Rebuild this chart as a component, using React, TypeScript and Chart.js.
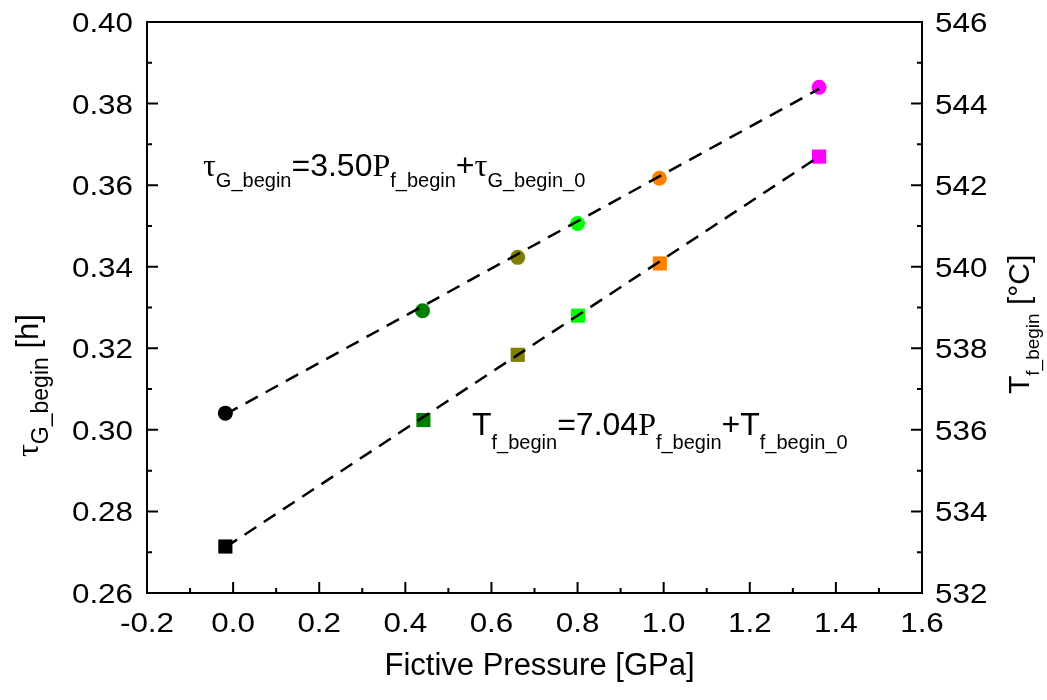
import { useEffect, useRef } from 'react';
import { Chart, registerables } from 'chart.js';
Chart.register(...registerables);

// ---- data ----
const tauPressure = [-0.018, 0.44, 0.661, 0.8, 0.99, 1.361];
const tauBegin = [0.3041, 0.3292, 0.3423, 0.3506, 0.3617, 0.384];
const tempPressure = [-0.018, 0.442, 0.661, 0.801, 0.991, 1.361];
const tempBegin = [533.14, 536.24, 537.84, 538.8, 540.08, 542.7];
const pointColors = ['#000000', '#007F00', '#7F7F00', '#00FF00', '#FF8000', '#FF00FF'];
const tauFitX = [-0.018, 1.361];
const tauFitY = [0.3038, 0.3836];
const tempFitX = [-0.018, 1.361];
const tempFitY = [533.12, 542.7];
const xTickValues = [-0.2, 0, 0.2, 0.4, 0.6, 0.8, 1.0, 1.2, 1.4, 1.6];
const xTickLabels = ['-0.2', '0.0', '0.2', '0.4', '0.6', '0.8', '1.0', '1.2', '1.4', '1.6'];
const leftTickValues = [0.26, 0.28, 0.3, 0.32, 0.34, 0.36, 0.38, 0.4];
const leftTickLabels = ['0.26', '0.28', '0.30', '0.32', '0.34', '0.36', '0.38', '0.40'];
const rightTickValues = [532, 534, 536, 538, 540, 542, 544, 546];
const rightTickLabels = ['532', '534', '536', '538', '540', '542', '544', '546'];

const SANS = '"Liberation Sans", Arial, sans-serif';
const SERIF = '"Liberation Serif", "Times New Roman", serif';

type Seg = { t: string; font: string; dy?: number };

function drawRich(ctx: CanvasRenderingContext2D, segs: Seg[], x: number, y: number) {
  let cx = x;
  ctx.textAlign = 'left';
  ctx.textBaseline = 'alphabetic';
  for (const s of segs) {
    ctx.font = s.font;
    ctx.fillText(s.t, cx, y + (s.dy || 0));
    cx += ctx.measureText(s.t).width;
  }
}

function drawStretched(ctx: CanvasRenderingContext2D, text: string, x: number, y: number, align: CanvasTextAlign, sx: number) {
  ctx.save();
  ctx.translate(x, y);
  ctx.scale(sx, 1);
  ctx.textAlign = align;
  ctx.textBaseline = 'alphabetic';
  ctx.fillText(text, 0, 0);
  ctx.restore();
}

const TICK_FONT = `28px ${SANS}`;
const TICK_SX = 1.12;

const decorPlugin = {
  id: 'decor',
  afterDraw(chart: any) {
    const ctx: CanvasRenderingContext2D = chart.ctx;
    const { left, right, top, bottom } = chart.chartArea;
    const xs = chart.scales.x;
    const yl = chart.scales.y;
    const yr = chart.scales.y2;
    ctx.save();
    ctx.strokeStyle = '#000';
    ctx.fillStyle = '#000';
    ctx.lineWidth = 2;
    ctx.strokeRect(left, top, right - left, bottom - top);

    // ticks (inward)
    ctx.lineWidth = 2;
    ctx.beginPath();
    for (let i = 0; i < xTickValues.length; i++) {
      const px = xs.getPixelForValue(xTickValues[i]);
      ctx.moveTo(px, bottom);
      ctx.lineTo(px, bottom - 11);
      if (i < xTickValues.length - 1) {
        const mx = xs.getPixelForValue((xTickValues[i] + xTickValues[i + 1]) / 2);
        ctx.moveTo(mx, bottom);
        ctx.lineTo(mx, bottom - 5);
      }
    }
    for (let i = 0; i < leftTickValues.length; i++) {
      const py = yl.getPixelForValue(leftTickValues[i]);
      ctx.moveTo(left, py);
      ctx.lineTo(left + 11, py);
      if (i < leftTickValues.length - 1) {
        const my = yl.getPixelForValue((leftTickValues[i] + leftTickValues[i + 1]) / 2);
        ctx.moveTo(left, my);
        ctx.lineTo(left + 5, my);
      }
    }
    for (let i = 0; i < rightTickValues.length; i++) {
      const py = yr.getPixelForValue(rightTickValues[i]);
      ctx.moveTo(right, py);
      ctx.lineTo(right - 11, py);
      if (i < rightTickValues.length - 1) {
        const my = yr.getPixelForValue((rightTickValues[i] + rightTickValues[i + 1]) / 2);
        ctx.moveTo(right, my);
        ctx.lineTo(right - 5, my);
      }
    }
    ctx.stroke();

    // tick labels
    ctx.font = TICK_FONT;
    xTickValues.forEach((v, i) => {
      drawStretched(ctx, xTickLabels[i], xs.getPixelForValue(v), bottom + 39, 'center', TICK_SX);
    });
    leftTickValues.forEach((v, i) => {
      drawStretched(ctx, leftTickLabels[i], left - 14, yl.getPixelForValue(v) + 10, 'right', TICK_SX);
    });
    rightTickValues.forEach((v, i) => {
      drawStretched(ctx, rightTickLabels[i], right + 13, yr.getPixelForValue(v) + 10, 'left', TICK_SX);
    });

    // x title
    ctx.font = `31px ${SANS}`;
    ctx.textAlign = 'center';
    ctx.textBaseline = 'alphabetic';
    ctx.fillText('Fictive Pressure [GPa]', (left + right) / 2 + 5, 675);

    // left title
    ctx.save();
    ctx.translate(38, 457);
    ctx.rotate(-Math.PI / 2);
    drawRich(ctx, [
      { t: 'τ', font: `32px ${SERIF}` },
      { t: 'G_begin', font: `23px ${SANS}`, dy: 10 },
      { t: ' [h]', font: `31px ${SANS}` },
    ], 0, 0);
    ctx.restore();

    // right title
    ctx.save();
    ctx.translate(1029, 394);
    ctx.rotate(-Math.PI / 2);
    drawRich(ctx, [
      { t: 'T', font: `30px ${SANS}` },
      { t: 'f_begin', font: `19px ${SANS}`, dy: 10 },
      { t: ' [°C]', font: `30px ${SANS}` },
    ], 0, 0);
    ctx.restore();

    // equations
    drawRich(ctx, [
      { t: 'τ', font: `32px ${SERIF}` },
      { t: 'G_begin', font: `20px ${SANS}`, dy: 11 },
      { t: '=3.50', font: `32px ${SANS}` },
      { t: 'P', font: `32px ${SERIF}` },
      { t: 'f_begin', font: `20px ${SANS}`, dy: 11 },
      { t: '+', font: `32px ${SANS}` },
      { t: 'τ', font: `32px ${SERIF}` },
      { t: 'G_begin_0', font: `20px ${SANS}`, dy: 11 },
    ], 203, 176);
    drawRich(ctx, [
      { t: 'T', font: `32px ${SANS}` },
      { t: 'f_begin', font: `20px ${SANS}`, dy: 14 },
      { t: '=7.04', font: `32px ${SANS}` },
      { t: 'P', font: `32px ${SERIF}` },
      { t: 'f_begin', font: `20px ${SANS}`, dy: 14 },
      { t: '+T', font: `32px ${SANS}` },
      { t: 'f_begin_0', font: `20px ${SANS}`, dy: 14 },
    ], 472, 435);
    ctx.restore();
  },
};

export default function App() {
  const ref = useRef<HTMLCanvasElement | null>(null);
  useEffect(() => {
    if (!ref.current) return;
    const chart = new Chart(ref.current, {
      type: 'scatter',
      data: {
        datasets: [
          {
            data: tauFitX.map((x, i) => ({ x, y: tauFitY[i] })),
            yAxisID: 'y',
            showLine: true,
            borderColor: '#000',
            borderWidth: 2.5,
            borderDash: [14, 9],
            pointRadius: 0,
            order: 0,
          } as any,
          {
            data: tempFitX.map((x, i) => ({ x, y: tempFitY[i] })),
            yAxisID: 'y2',
            showLine: true,
            borderColor: '#000',
            borderWidth: 2.5,
            borderDash: [14, 9],
            pointRadius: 0,
            order: 0,
          } as any,
          {
            data: tauPressure.map((x, i) => ({ x, y: tauBegin[i] })),
            yAxisID: 'y',
            pointStyle: 'circle',
            pointRadius: 7.5,
            pointBackgroundColor: pointColors,
            pointBorderColor: pointColors,
            pointBorderWidth: 0,
            order: 1,
          } as any,
          {
            data: tempPressure.map((x, i) => ({ x, y: tempBegin[i] })),
            yAxisID: 'y2',
            pointStyle: 'rect',
            pointRadius: 10,
            pointBackgroundColor: pointColors,
            pointBorderColor: pointColors,
            pointBorderWidth: 0,
            order: 1,
          } as any,
        ],
      },
      options: {
        responsive: false,
        animation: false,
        devicePixelRatio: 1,
        layout: { padding: { top: 22, left: 0, right: 0, bottom: 0 } },
        plugins: { legend: { display: false }, tooltip: { enabled: false } },
        scales: {
          x: {
            type: 'linear',
            min: -0.2,
            max: 1.6,
            grid: { display: false },
            border: { display: false },
            ticks: { display: false },
            afterFit: (s: any) => { s.height = 107; },
          },
          y: {
            type: 'linear',
            position: 'left',
            min: 0.26,
            max: 0.4,
            grid: { display: false },
            border: { display: false },
            ticks: { display: false },
            afterFit: (s: any) => { s.width = 147; },
          },
          y2: {
            type: 'linear',
            position: 'right',
            min: 532,
            max: 546,
            grid: { display: false },
            border: { display: false },
            ticks: { display: false },
            afterFit: (s: any) => { s.width = 125; },
          },
        },
      } as any,
      plugins: [decorPlugin],
    });
    return () => chart.destroy();
  }, []);
  return (
    <div style={{ position: 'absolute', left: 0, top: 0, width: 1047, height: 700, background: '#fff' }}>
      <canvas ref={ref} width={1047} height={700} style={{ display: 'block' }} />
    </div>
  );
}
